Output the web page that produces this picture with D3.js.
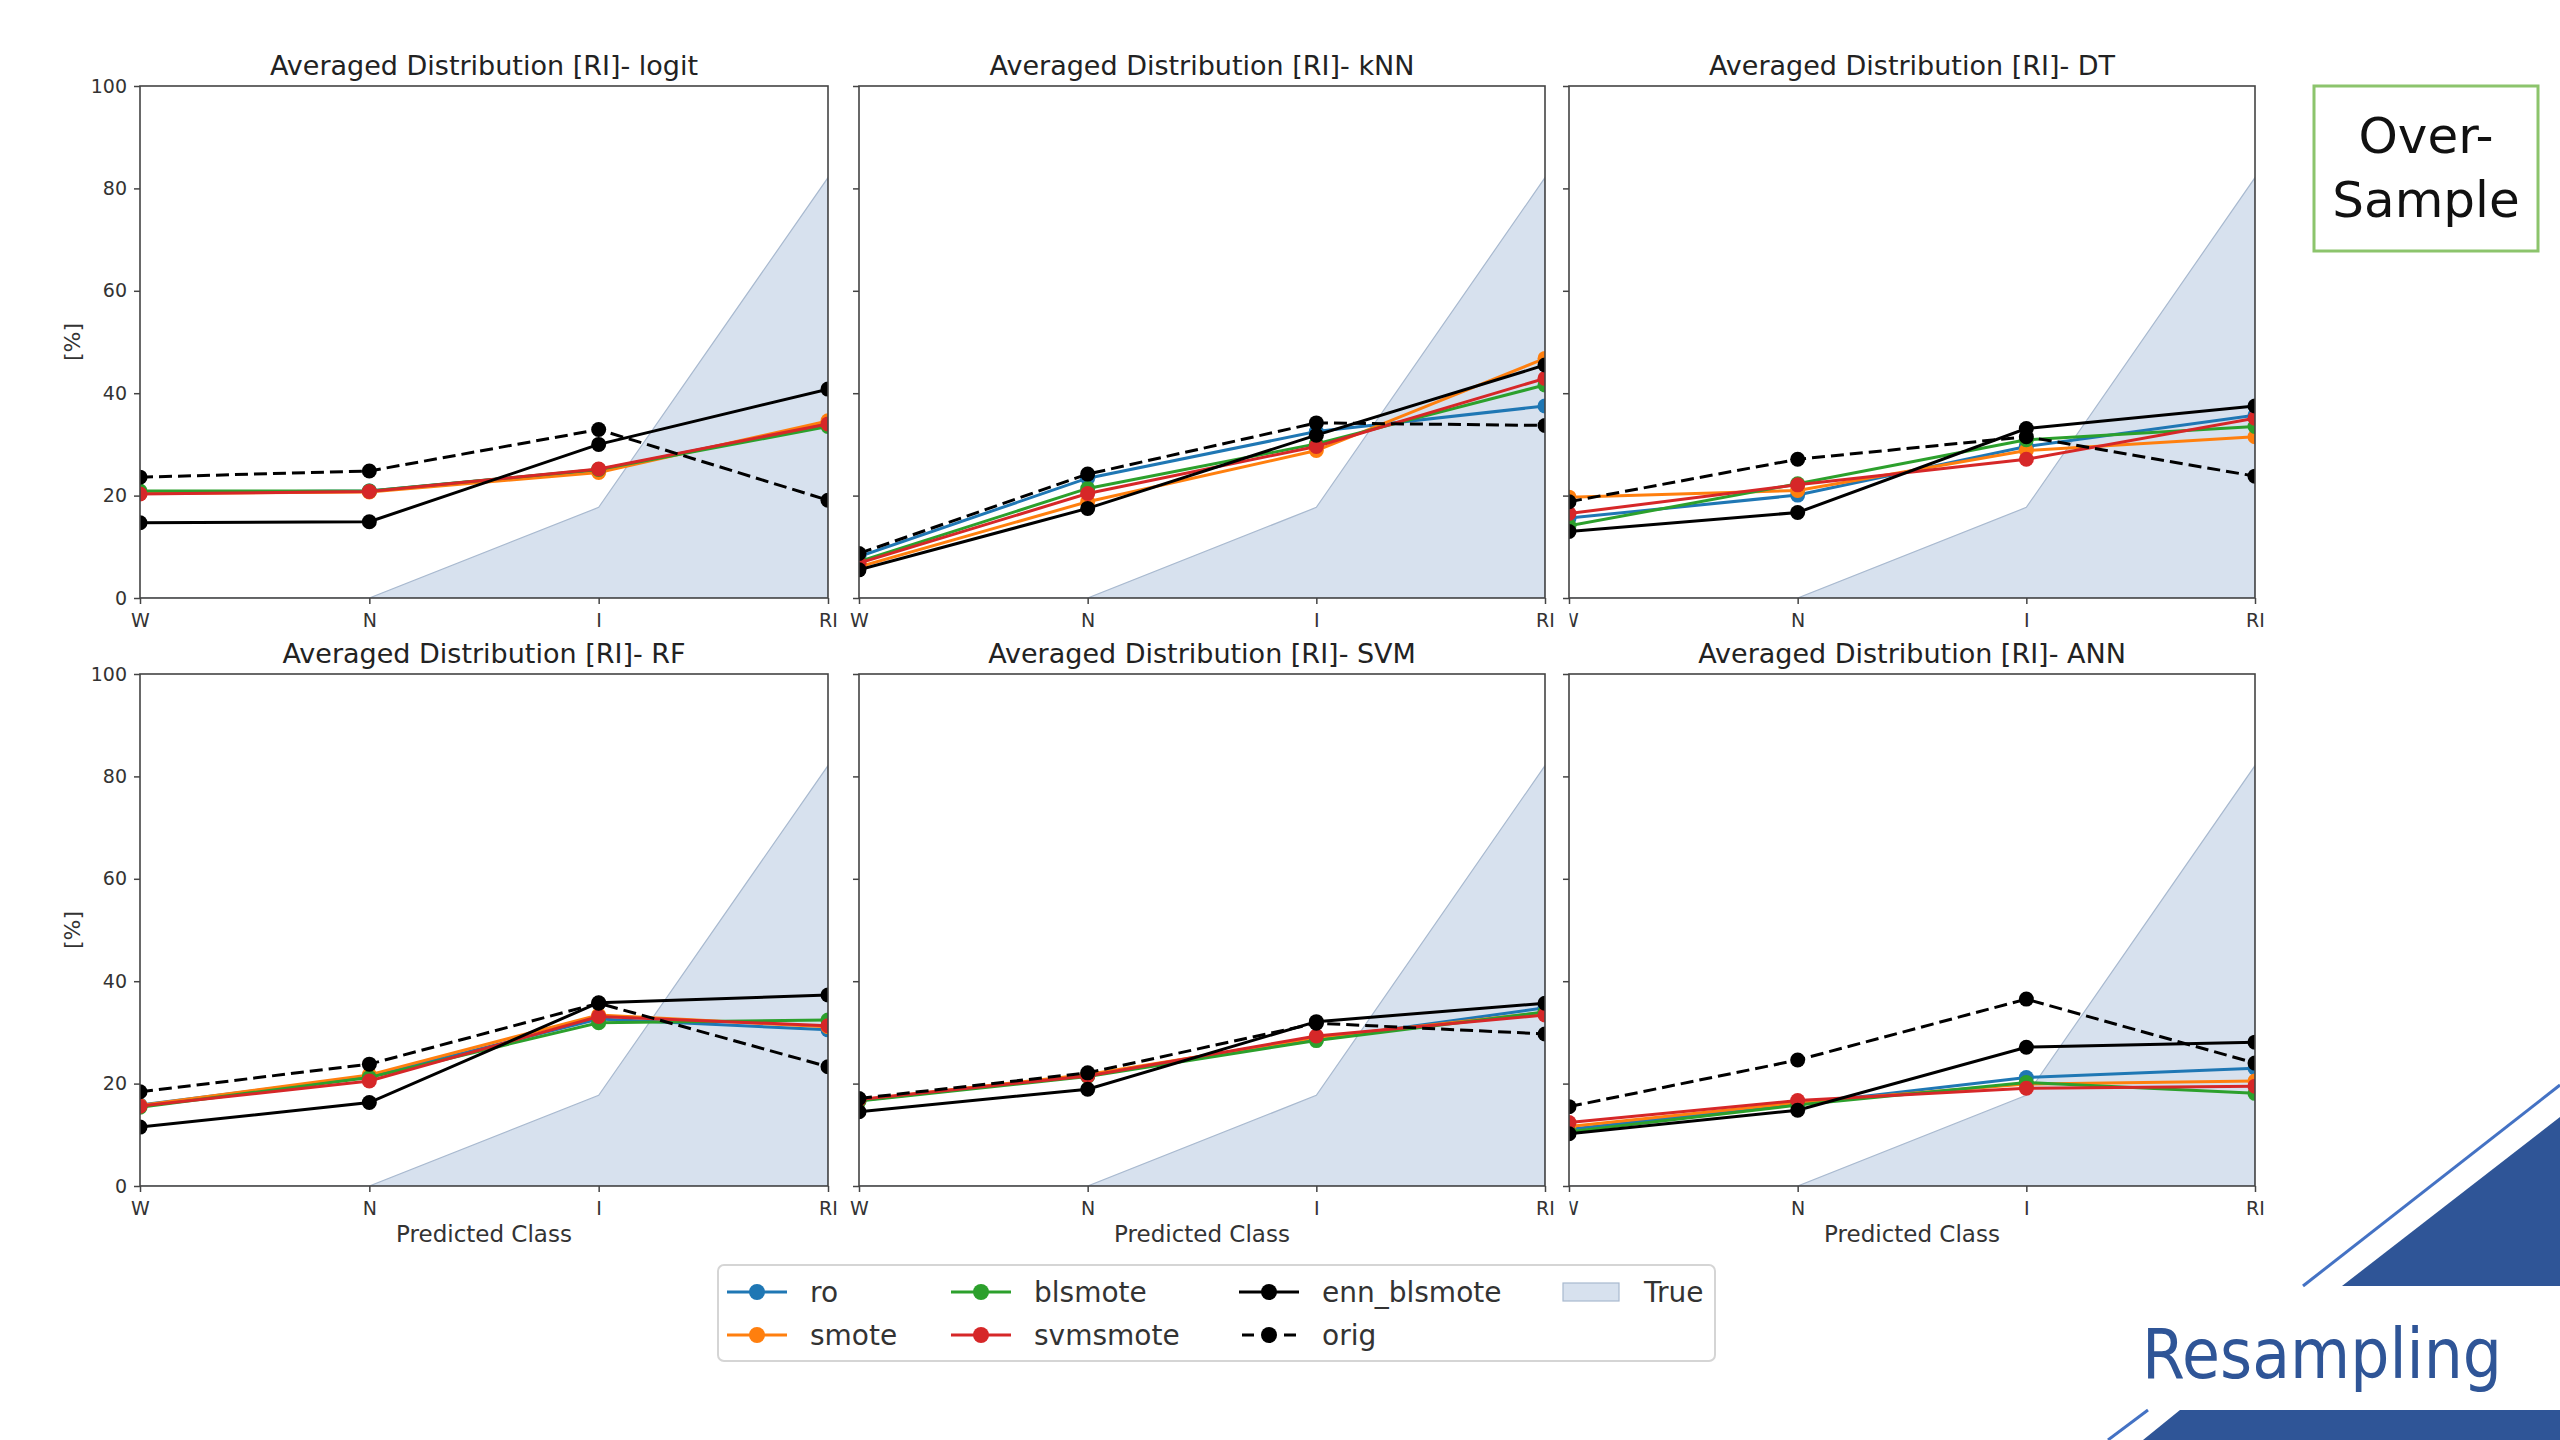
<!DOCTYPE html>
<html>
<head>
<meta charset="utf-8">
<script src="https://cdn.jsdelivr.net/npm/d3@7"></script>
<style>
  body { margin: 0; background: #fff; }
  text { font-family: "DejaVu Sans", sans-serif; }
</style>
</head>
<body>
<div id="chart"></div>
<script>
// Classes on the x axis and one panel per classifier
var classes = ['W', 'N', 'I', 'RI'];
var models  = ['logit', 'kNN', 'DT', 'RF', 'SVM', 'ANN'];

// True distribution (shaded area), same for every panel
var trueDist = [0, 0, 17.7, 82.1];

// Averaged predicted distribution [%], one row per model (same order as models)
var ro = [
    [20.6, 20.9, 25.0, 34.1],
    [ 8.1, 23.4, 32.5, 37.5],
    [15.6, 20.1, 29.6, 35.7],
    [15.8, 21.4, 32.6, 30.5],
    [16.7, 21.6, 28.6, 34.8],
    [11.1, 16.0, 21.2, 23.0]
];
var smote = [
    [20.4, 20.7, 24.5, 34.6],
    [ 6.1, 18.8, 28.8, 46.8],
    [19.7, 21.0, 28.8, 31.5],
    [15.7, 21.7, 33.4, 31.1],
    [16.8, 21.8, 29.0, 33.9],
    [11.6, 16.3, 19.9, 20.5]
];
var blsmote = [
    [20.9, 20.9, 25.1, 33.5],
    [ 7.1, 21.4, 30.1, 41.6],
    [14.1, 22.3, 30.9, 33.5],
    [15.4, 21.2, 31.9, 32.4],
    [16.6, 21.4, 28.4, 34.0],
    [10.6, 15.8, 20.2, 18.1]
];
var svmsmote = [
    [20.3, 20.8, 25.2, 34.0],
    [ 6.8, 20.4, 29.6, 42.9],
    [16.5, 22.1, 27.1, 35.1],
    [15.6, 20.5, 33.1, 31.3],
    [16.9, 21.5, 29.3, 33.4],
    [12.4, 16.7, 19.1, 19.5]
];
var enn_blsmote = [
    [14.7, 14.9, 30.0, 40.8],
    [ 5.5, 17.5, 31.8, 45.5],
    [13.0, 16.7, 33.1, 37.5],
    [11.5, 16.3, 35.8, 37.3],
    [14.5, 18.9, 32.1, 35.7],
    [10.2, 14.8, 27.1, 28.1]
];
var orig = [
    [23.6, 24.8, 32.9, 19.1],
    [ 8.7, 24.2, 34.2, 33.7],
    [18.8, 27.1, 31.5, 23.8],
    [18.4, 23.8, 35.7, 23.3],
    [17.1, 22.1, 31.8, 29.7],
    [15.5, 24.6, 36.5, 24.0]
];

var yTicks = [0, 20, 40, 60, 80, 100];

// Series table built from the arrays above
var series = [
    { name: 'ro',          values: ro,          color: '#1f77b4', dash: null },
    { name: 'smote',       values: smote,       color: '#ff7f0e', dash: null },
    { name: 'blsmote',     values: blsmote,     color: '#2ca02c', dash: null },
    { name: 'svmsmote',    values: svmsmote,    color: '#d62728', dash: null },
    { name: 'enn_blsmote', values: enn_blsmote, color: '#000000', dash: null },
    { name: 'orig',        values: orig,        color: '#000000', dash: '13,6' }
];

var W = 2560, H = 1440;
var cols = [[140, 828], [859, 1545], [1569, 2255]];
var rows = [[86, 598], [674, 1186]];

var svg = d3.select('#chart').append('svg')
    .attr('width', W).attr('height', H);
var defs = svg.append('defs');

// clip for the half-hidden left tick label of the right column
defs.append('clipPath').attr('id', 'clipW')
    .append('rect').attr('x', 0).attr('y', -40).attr('width', 60).attr('height', 80);

models.forEach(function(m, i)
{
    var c = cols[i % 3], r = rows[Math.floor(i / 3)];
    var x = d3.scalePoint().domain(classes).range(c);
    var y = d3.scaleLinear().domain([0, 100]).range([r[1], r[0]]);

    defs.append('clipPath').attr('id', 'clip' + i)
        .append('rect')
        .attr('x', c[0]).attr('y', r[0])
        .attr('width', c[1] - c[0]).attr('height', r[1] - r[0]);

    var g = svg.append('g');
    var plot = g.append('g').attr('clip-path', 'url(#clip' + i + ')');

    // True distribution
    var area = d3.area()
        .x(function(d, j){ return x(classes[j]); })
        .y0(y(0))
        .y1(function(d){ return y(d); });
    plot.append('path')
        .datum(trueDist)
        .attr('d', area)
        .attr('fill', '#d7e1ee')
        .attr('stroke', '#a8b9cf')
        .attr('stroke-width', 1.2);

    // Lines with markers
    var line = d3.line()
        .x(function(d, j){ return x(classes[j]); })
        .y(function(d){ return y(d); });
    series.forEach(function(s)
    {
        var vals = s.values[i];
        plot.append('path')
            .datum(vals)
            .attr('d', line)
            .attr('fill', 'none')
            .attr('stroke', s.color)
            .attr('stroke-width', 3)
            .attr('stroke-dasharray', s.dash);
        plot.selectAll(null)
            .data(vals)
            .enter()
            .append('circle')
            .attr('cx', function(d, j){ return x(classes[j]); })
            .attr('cy', function(d){ return y(d); })
            .attr('r', 7.5)
            .attr('fill', s.color);
    });

    // Axes
    var xAxis = g.append('g')
        .attr('transform', 'translate(0,' + r[1] + ')')
        .call(d3.axisBottom(x).tickSize(6).tickPadding(10));
    var yAxis = g.append('g')
        .attr('transform', 'translate(' + c[0] + ',0)')
        .call(d3.axisLeft(y).tickValues(yTicks).tickSize(6).tickPadding(7)
              .tickFormat(i % 3 == 0 ? d3.format('d') : ''));
    [xAxis, yAxis].forEach(function(a){
        a.select('.domain').remove();
        a.selectAll('line').attr('stroke', '#444').attr('stroke-width', 1.5);
        a.selectAll('text').attr('font-size', 19).attr('fill', '#333')
            .attr('font-family', '"DejaVu Sans", sans-serif');
    });
    if(i % 3 == 2)
        xAxis.select('.tick text').attr('clip-path', 'url(#clipW)');

    g.append('rect')
        .attr('x', c[0]).attr('y', r[0])
        .attr('width', c[1] - c[0]).attr('height', r[1] - r[0])
        .attr('fill', 'none')
        .attr('stroke', '#444')
        .attr('stroke-width', 1.6);

    // Title
    g.append('text')
        .attr('x', (c[0] + c[1]) / 2).attr('y', r[0] - 11)
        .attr('text-anchor', 'middle')
        .attr('font-size', 27).attr('fill', '#222')
        .text('Averaged Distribution [RI]- ' + m);

    if(i % 3 == 0)
        g.append('text')
            .attr('transform', 'translate(80,' + (r[0] + r[1]) / 2 + ') rotate(-90)')
            .attr('text-anchor', 'middle')
            .attr('font-size', 22).attr('fill', '#333')
            .text('[%]');
    if(i >= 3)
        g.append('text')
            .attr('x', (c[0] + c[1]) / 2).attr('y', 1242)
            .attr('text-anchor', 'middle')
            .attr('font-size', 23).attr('fill', '#333')
            .text('Predicted Class');
});

// Legend
var legend = svg.append('g');
legend.append('rect')
    .attr('x', 718).attr('y', 1265).attr('width', 997).attr('height', 96)
    .attr('rx', 6)
    .attr('fill', '#fff').attr('stroke', '#d5d5d5').attr('stroke-width', 2);

var legendCols = [727, 951, 1239];
var legendRows = [1292, 1335];
series.forEach(function(s, k)
{
    var lx = legendCols[Math.floor(k / 2)], ly = legendRows[k % 2];
    legend.append('line')
        .attr('x1', lx).attr('x2', lx + 60).attr('y1', ly).attr('y2', ly)
        .attr('stroke', s.color).attr('stroke-width', 3)
        .attr('stroke-dasharray', s.dash ? '12,9' : null)
        .attr('stroke-dashoffset', s.dash ? -3 : null);
    legend.append('circle')
        .attr('cx', lx + 30).attr('cy', ly).attr('r', 8).attr('fill', s.color);
    legend.append('text')
        .attr('x', lx + 83).attr('y', ly + 10)
        .attr('font-size', 28).attr('fill', '#333')
        .text(s.name);
});
legend.append('rect')
    .attr('x', 1563).attr('y', 1283).attr('width', 56).attr('height', 18)
    .attr('fill', '#d7e1ee').attr('stroke', '#a8b9cf').attr('stroke-width', 1.2);
legend.append('text')
    .attr('x', 1644).attr('y', 1302)
    .attr('font-size', 28).attr('fill', '#333')
    .text('True');

// Slide decorations
var deco = svg.append('g');
deco.append('rect')
    .attr('x', 2314).attr('y', 86).attr('width', 224).attr('height', 165)
    .attr('fill', 'none').attr('stroke', '#8cc46c').attr('stroke-width', 3);
deco.append('text')
    .attr('x', 2426).attr('y', 153).attr('text-anchor', 'middle')
    .attr('font-family', 'Lato, sans-serif').attr('font-size', 50).attr('fill', '#111')
    .text('Over-');
deco.append('text')
    .attr('x', 2426).attr('y', 217).attr('text-anchor', 'middle')
    .attr('font-family', 'Lato, sans-serif').attr('font-size', 50).attr('fill', '#111')
    .text('Sample');

deco.append('line')
    .attr('x1', 2303).attr('y1', 1286).attr('x2', 2560).attr('y2', 1085)
    .attr('stroke', '#4472c4').attr('stroke-width', 3);
deco.append('path')
    .attr('d', 'M2342,1286L2560,1117L2560,1286Z')
    .attr('fill', '#2f5597');
deco.append('line')
    .attr('x1', 2108).attr('y1', 1440).attr('x2', 2148).attr('y2', 1410)
    .attr('stroke', '#4472c4').attr('stroke-width', 3);
deco.append('path')
    .attr('d', 'M2143,1440L2180,1410L2560,1410L2560,1440Z')
    .attr('fill', '#2f5597');
deco.append('text')
    .attr('x', 2142).attr('y', 1378)
    .attr('font-family', 'Lato, sans-serif').attr('font-size', 70).attr('fill', '#2f5597')
    .attr('textLength', 360).attr('lengthAdjust', 'spacingAndGlyphs')
    .text('Resampling');
</script>
</body>
</html>
